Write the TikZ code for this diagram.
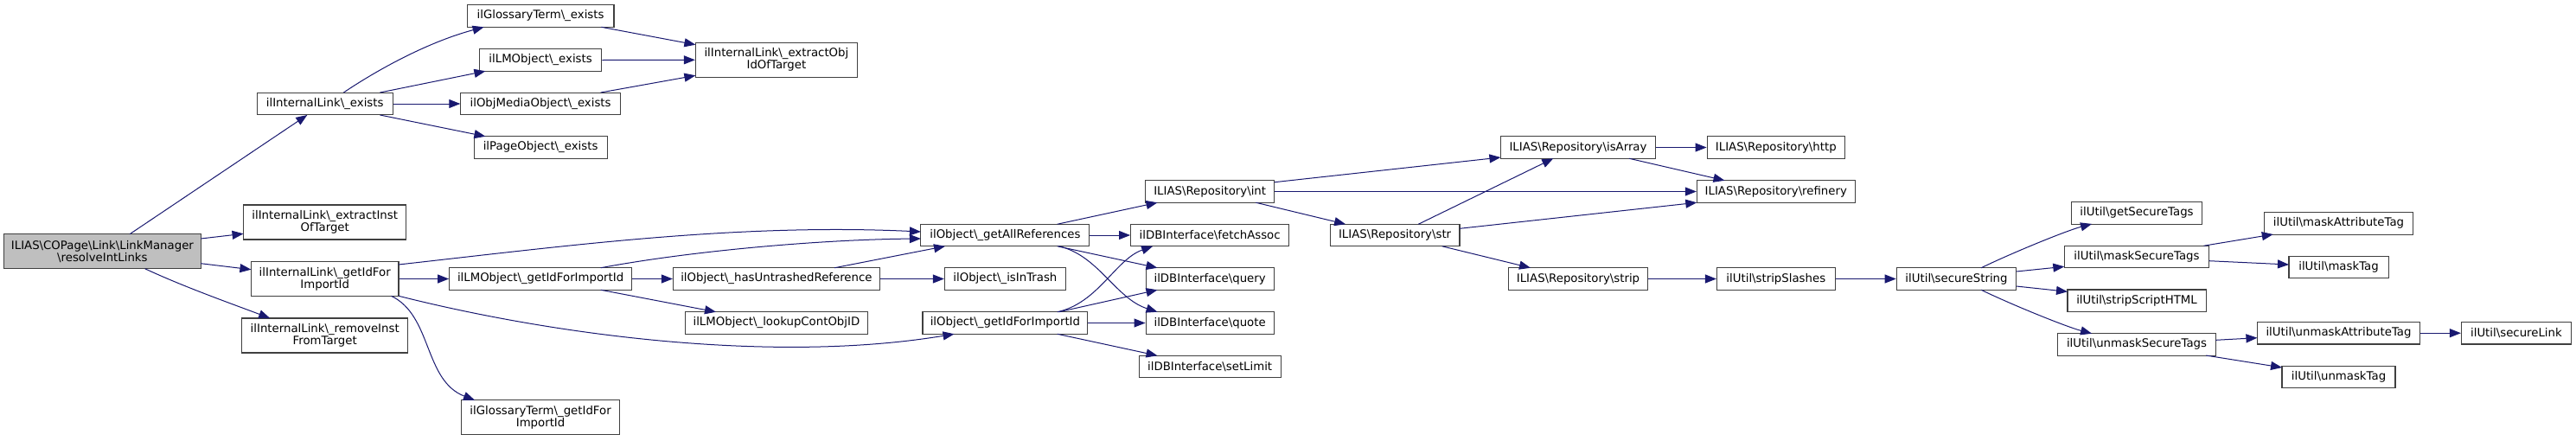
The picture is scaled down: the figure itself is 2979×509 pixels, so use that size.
\documentclass[tikz,border=0pt]{standalone}
\usepackage{fontspec}
\setmainfont{DejaVu Sans}
\usetikzlibrary{arrows.meta,calc}
\definecolor{edgecol}{HTML}{191970}
\definecolor{boxcol}{HTML}{404040}
\newcommand{\BSL}{\textbackslash}
\begin{document}
\begin{tikzpicture}[x=1pt,y=-1pt,
  box/.style={draw=boxcol, line width=1.1pt, fill=white, minimum height=25.5pt, inner sep=0pt, align=center, font=\fontsize{13.3}{14}\selectfont},
  tall/.style={minimum height=40pt},
  edge/.style={draw=edgecol, line width=1pt, -{Triangle[length=13pt,width=10pt]}}]
\useasboundingbox (0,0) rectangle (2979,509);
% nodes
\node[box,tall,fill={rgb,255:red,191;green,191;blue,191},minimum width=227.6pt] (main) at (118.4,290.7) {ILIAS\BSL COPage\BSL Link\BSL LinkManager\\\BSL resolveIntLinks};
\node[box,minimum width=157pt] (ex) at (375.7,120) {ilInternalLink\BSL\_exists};
\node[box,tall,minimum width=188.3pt] (exI) at (375.7,257) {ilInternalLink\BSL\_extractInst\\OfTarget};
\node[box,minimum height=39.5pt,minimum width=170.5pt] (gid) at (375.7,322.5) {ilInternalLink\BSL\_getIdFor\\ImportId};
\node[box,tall,minimum width=192.3pt] (rem) at (375.7,388) {ilInternalLink\BSL\_removeInst\\FromTarget};
\node[box,minimum width=169.8pt] (gte) at (625.1,18.5) {ilGlossaryTerm\BSL\_exists};
\node[box,minimum width=141.3pt] (lme) at (625.1,69.5) {ilLMObject\BSL\_exists};
\node[box,minimum width=184.5pt] (ome) at (625.1,120) {ilObjMediaObject\BSL\_exists};
\node[box,minimum width=154pt] (poe) at (625.1,170.5) {ilPageObject\BSL\_exists};
\node[box,tall,minimum width=187pt] (eo) at (897.9,69.3) {ilInternalLink\BSL\_extractObj\\IdOfTarget};
\node[box,minimum width=210.8pt] (lmg) at (625.1,322.5) {ilLMObject\BSL\_getIdForImportId};
\node[box,minimum height=39.5pt,minimum width=183.1pt] (gtg) at (625.1,482.5) {ilGlossaryTerm\BSL\_getIdFor\\ImportId};
\node[box,minimum width=238.9pt] (hur) at (897.9,322.5) {ilObject\BSL\_hasUntrashedReference};
\node[box,minimum width=211.1pt] (lcid) at (897.9,373.5) {ilLMObject\BSL\_lookupContObjID};
\node[box,minimum width=195pt] (gar) at (1162.4,272) {ilObject\BSL\_getAllReferences};
\node[box,minimum width=140pt] (iit) at (1162.4,322.5) {ilObject\BSL\_isInTrash};
\node[box,minimum width=190.8pt] (ogi) at (1162.4,373.5) {ilObject\BSL\_getIdForImportId};
\node[box,minimum width=149.5pt] (int) at (1399.15,221.5) {ILIAS\BSL Repository\BSL int};
\node[box,minimum width=183.1pt] (fa) at (1399.15,272) {ilDBInterface\BSL fetchAssoc};
\node[box,minimum width=148.1pt] (qu) at (1399.15,322.5) {ilDBInterface\BSL query};
\node[box,minimum width=148.1pt] (quo) at (1399.15,373.5) {ilDBInterface\BSL quote};
\node[box,minimum width=164.1pt] (sl) at (1399.15,424) {ilDBInterface\BSL setLimit};
\node[box,minimum width=149.8pt] (str) at (1613.1,272) {ILIAS\BSL Repository\BSL str};
\node[box,minimum width=179.2pt] (isa) at (1825,170.5) {ILIAS\BSL Repository\BSL isArray};
\node[box,minimum width=161.3pt] (strip) at (1825,322.5) {ILIAS\BSL Repository\BSL strip};
\node[box,minimum width=159.4pt] (http) at (2053.8,170.5) {ILIAS\BSL Repository\BSL http};
\node[box,minimum width=182.9pt] (ref) at (2053.8,221.5) {ILIAS\BSL Repository\BSL refinery};
\node[box,minimum width=136.7pt] (ss) at (2053.8,322.5) {ilUtil\BSL stripSlashes};
\node[box,minimum width=138.5pt] (sec) at (2262.5,322.5) {ilUtil\BSL secureString};
\node[box,minimum width=151.2pt] (gst) at (2471,246.3) {ilUtil\BSL getSecureTags};
\node[box,minimum width=167.4pt] (mst) at (2471,297) {ilUtil\BSL maskSecureTags};
\node[box,minimum width=160.1pt] (ssh) at (2471,347.7) {ilUtil\BSL stripScriptHTML};
\node[box,minimum width=182.9pt] (ust) at (2471,398.3) {ilUtil\BSL unmaskSecureTags};
\node[box,minimum width=172.4pt] (mat) at (2704.5,258.3) {ilUtil\BSL maskAttributeTag};
\node[box,minimum width=115.1pt] (mt) at (2704.5,309) {ilUtil\BSL maskTag};
\node[box,minimum width=188.2pt] (uat) at (2704.5,385.2) {ilUtil\BSL unmaskAttributeTag};
\node[box,minimum width=131pt] (ut) at (2704.5,436) {ilUtil\BSL unmaskTag};
\node[box,minimum width=126.9pt] (sln) at (2909.9,385.2) {ilUtil\BSL secureLink};
% edges
\draw[edge] ($(main)+(31.7,-20)$) -- ($(ex)+(-20.4,13)$);
\draw[edge] ($(main)+(113.8,-14.7)$) -- ($(exI)+(-94.15,13.3)$);
\draw[edge] ($(main)+(113.8,14)$) -- ($(gid)+(-85.25,-10.8)$);
\draw[edge] ($(main)+(49.2,20)$) .. controls +(45,21) and +(-45,-17) .. ($(rem)+(-63.5,-20)$);
\draw[edge] ($(ex)+(21.7,-13)$) .. controls +(32.6,-22) and +(-69.6,18.7) .. ($(gte)+(-65.5,12.8)$);
\draw[edge] ($(ex)+(63.8,-13)$) -- ($(lme)+(-63.7,12.75)$);
\draw[edge] (ex.east) -- (ome.west);
\draw[edge] ($(ex)+(63.8,13)$) -- ($(poe)+(-63.7,-12.75)$);
\draw[edge] ($(gte)+(70.3,12.8)$) -- ($(eo)+(-93.5,-17.6)$);
\draw[edge] (lme.east) -- (eo.west);
\draw[edge] ($(ome)+(69.6,-13)$) -- ($(eo)+(-93.5,18)$);
\draw[edge] ($(gid)+(85.25,-16.5)$) .. controls +(189.1,-21) and +(-214.9,-10) .. ($(gar)+(-97.5,-4)$);
\draw[edge] (gid.east) -- (lmg.west);
\draw[edge] ($(gid)+(85.2,19.75)$) .. controls +(189.1,47.75) and +(-203.5,33.75) .. ($(ogi)+(-58.9,12.75)$);
\draw[edge] ($(gid)+(76.7,19.75)$) .. controls +(47.6,22.75) and +(-59,-22.7) .. ($(gtg)+(-76.1,-19.75)$);
\draw[edge] ($(lmg)+(69.6,-12.75)$) .. controls +(105.3,-19.75) and +(-114.9,1) .. ($(gar)+(-97.5,4)$);
\draw[edge] (lmg.east) -- (hur.west);
\draw[edge] ($(lmg)+(69.6,12.75)$) -- ($(lcid)+(-69.9,-12.75)$);
\draw[edge] ($(hur)+(67.1,-12.75)$) -- ($(gar)+(-69.4,12.75)$);
\draw[edge] (hur.east) -- (iit.west);
\draw[edge] ($(gar)+(60.3,-12.75)$) -- ($(int)+(-60.65,12.75)$);
\draw[edge] (gar.east) -- (fa.west);
\draw[edge] ($(gar)+(60.3,12.75)$) -- ($(qu)+(-60.65,-12.75)$);
\draw[edge] ($(gar)+(62.1,12.75)$) .. controls +(45.5,10.25) and +(-48.5,-15.75) .. ($(quo)+(-60.65,-12.75)$);
\draw[edge] ($(ogi)+(60.3,-12.75)$) .. controls +(47.3,-10.25) and +(-43.2,15.25) .. ($(fa)+(-66,12.75)$);
\draw[edge] ($(ogi)+(62.1,-12.75)$) -- ($(qu)+(-60.65,12.75)$);
\draw[edge] (ogi.east) -- (quo.west);
\draw[edge] ($(ogi)+(60.3,12.75)$) -- ($(sl)+(-60.65,-12.75)$);
\draw[edge] ($(int)+(74.75,-10.8)$) -- ($(isa)+(-89.6,11.5)$);
\draw[edge] (int.east) -- (ref.west);
\draw[edge] ($(int)+(53.15,12.75)$) -- ($(str)+(-57,-12.75)$);
\draw[edge] ($(str)+(27.2,-12.75)$) -- ($(isa)+(-28.7,12.75)$);
\draw[edge] ($(str)+(74.9,-7.7)$) -- ($(ref)+(-91.5,12.75)$);
\draw[edge] ($(str)+(54.5,12.75)$) -- ($(strip)+(-55,-12.75)$);
\draw[edge] (isa.east) -- (http.west);
\draw[edge] ($(isa)+(59,12.75)$) -- ($(ref)+(-59.3,-12.75)$);
\draw[edge] (strip.east) -- (ss.west);
\draw[edge] (ss.east) -- (sec.west);
\draw[edge] ($(sec)+(28.6,-12.75)$) .. controls +(35,-17) and +(-30,8) .. ($(gst)+(-51.9,12.65)$);
\draw[edge] ($(sec)+(69.25,-8.5)$) -- ($(mst)+(-83.7,11.3)$);
\draw[edge] ($(sec)+(69.25,8.5)$) -- ($(ssh)+(-80,-10.4)$);
\draw[edge] ($(sec)+(28.6,12.75)$) .. controls +(35,17) and +(-30,-8) .. ($(ust)+(-51.9,-12.55)$);
\draw[edge] ($(mst)+(77.5,-12.75)$) -- ($(mat)+(-75.7,12.7)$);
\draw[edge] ($(mst)+(83.7,4.7)$) -- ($(mt)+(-57.55,-3)$);
\draw[edge] ($(ust)+(91.45,-5)$) -- ($(uat)+(-94.1,5.5)$);
\draw[edge] ($(ust)+(80.2,12.75)$) -- ($(ut)+(-65.5,-11)$);
\draw[edge] (uat.east) -- (sln.west);
\end{tikzpicture}
\end{document}
